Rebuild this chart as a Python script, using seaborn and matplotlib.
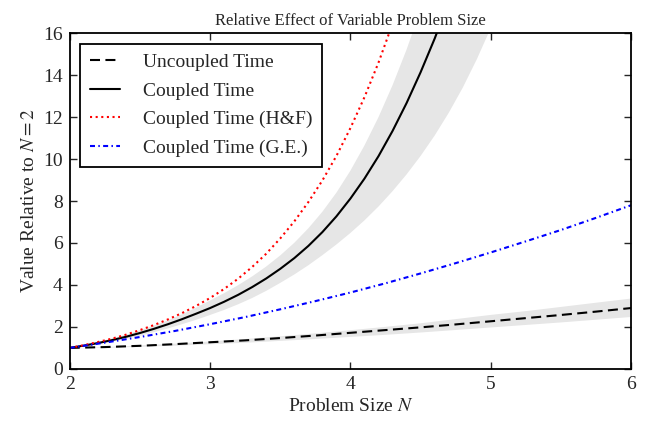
import matplotlib
matplotlib.use("Agg")
import matplotlib.pyplot as plt
import seaborn as sns
import pandas as pd

# problem sizes sampled along the curves
n_fast = [2.0, 2.1, 2.2, 2.3, 2.4, 2.5, 2.6, 2.7, 2.8, 2.9, 3.0, 3.1, 3.2, 3.3, 3.4, 3.5,
          3.6, 3.7, 3.8, 3.9, 4.0, 4.1, 4.2, 4.3, 4.4, 4.5, 4.6, 4.7, 4.8, 4.9, 5.0, 5.1]
n_slow = [2.0, 2.25, 2.5, 2.75, 3.0, 3.25, 3.5, 3.75, 4.0, 4.25, 4.5, 4.75, 5.0, 5.25, 5.5, 5.75, 6.0]

# relative values
uncoupled = [1.0, 1.04, 1.1, 1.18, 1.27, 1.36, 1.47, 1.59, 1.72, 1.85, 1.98, 2.12, 2.27, 2.42, 2.57, 2.73, 2.9]
uncoupled_lo = [1.0, 1.03, 1.08, 1.13, 1.2, 1.27, 1.36, 1.45, 1.55, 1.65, 1.76, 1.88, 2.0, 2.12, 2.24, 2.37, 2.5]
uncoupled_hi = [1.0, 1.06, 1.14, 1.23, 1.33, 1.45, 1.58, 1.72, 1.87, 2.03, 2.2, 2.4, 2.6, 2.78, 2.98, 3.18, 3.38]

coupled_ge = [1.0, 1.25, 1.52, 1.81, 2.13, 2.47, 2.84, 3.23, 3.64, 4.08, 4.55, 5.04, 5.55, 6.08, 6.62, 7.2, 7.8]

coupled = [1.0, 1.11, 1.23, 1.37, 1.53, 1.71, 1.91, 2.13, 2.37, 2.63, 2.9, 3.2, 3.53, 3.9, 4.31, 4.77,
           5.28, 5.86, 6.52, 7.27, 8.12, 9.07, 10.14, 11.34, 12.67, 14.14, 15.74, 17.49, 19.4, 21.45, 23.7, 26.1]
coupled_lo = [1.0, 1.09, 1.19, 1.3, 1.43, 1.58, 1.75, 1.93, 2.13, 2.34, 2.57, 2.81, 3.08, 3.38, 3.72, 4.1,
              4.5, 4.94, 5.42, 5.93, 6.48, 7.08, 7.74, 8.47, 9.27, 10.15, 11.12, 12.2, 13.4, 14.75, 16.25, 17.9]
coupled_hi = [1.0, 1.13, 1.28, 1.45, 1.63, 1.84, 2.07, 2.32, 2.6, 2.92, 3.26, 3.61, 3.99, 4.41, 4.88, 5.41,
              6.01, 6.7, 7.49, 8.4, 9.45, 10.65, 12.0, 13.52, 15.22, 17.12, 19.25, 21.6, 24.2, 27.1, 30.3, 33.9]

coupled_hf = [1.0, 1.13, 1.28, 1.44, 1.63, 1.85, 2.09, 2.36, 2.66, 3.0, 3.38, 3.81, 4.3, 4.86, 5.49, 6.22,
              7.03, 7.95, 8.98, 10.15, 11.48, 12.95, 14.6, 16.45, 18.5, 20.8, 23.4, 26.3, 29.5, 33.1, 37.1, 41.6]

sns.set_style("ticks")
plt.rcParams['font.family'] = ['Liberation Serif', 'DejaVu Serif']
plt.rcParams['mathtext.fontset'] = 'stix'

fig = plt.figure(figsize=(6.46, 4.25), dpi=100)
ax = fig.add_axes([0.108, 0.132, 0.869, 0.79])

slow_df = pd.DataFrame({'N': n_slow, 'unc': uncoupled, 'ge': coupled_ge})
fast_df = pd.DataFrame({'N': n_fast, 'cpl': coupled, 'hf': coupled_hf})

# uncertainty bands
ax.fill_between(n_slow, uncoupled_lo, uncoupled_hi, color='0.9', lw=0)
ax.fill_between(n_fast, coupled_lo, coupled_hi, color='0.9', lw=0)

sns.lineplot(data=slow_df, x='N', y='unc', ax=ax, color='black', lw=1.5,
             linestyle=(0, (4.8, 2.6)), label='Uncoupled Time')
sns.lineplot(data=fast_df, x='N', y='cpl', ax=ax, color='black', lw=1.5,
             label='Coupled Time')
sns.lineplot(data=fast_df, x='N', y='hf', ax=ax, color='red', lw=1.5,
             linestyle=(0, (1, 1.7)), label='Coupled Time (H&F)')
sns.lineplot(data=slow_df, x='N', y='ge', ax=ax, color='blue', lw=1.5,
             linestyle=(0, (2.4, 1.6, 0.7, 1.6)), label='Coupled Time (G.E.)')

ax.set_xlim(2, 6)
ax.set_ylim(0, 16)
ax.set_xticks([2, 3, 4, 5, 6])
ax.set_yticks(range(0, 17, 2))
ax.tick_params(direction='in', top=True, right=True, length=5, width=1, labelsize=14, pad=5)
for s in ax.spines.values():
    s.set_linewidth(1.3)
    s.set_color('black')

ax.set_title('Relative Effect of Variable Problem Size', fontsize=12)
ax.set_xlabel('Problem Size $N$', fontsize=14)
ax.set_ylabel('Value Relative to $N=2$', fontsize=14)

leg = ax.legend(loc='upper left', fontsize=14, frameon=True, fancybox=False,
                handlelength=1.55, handletextpad=1.15, borderaxespad=0.55,
                borderpad=0.5, labelspacing=0.56)
leg.get_frame().set_edgecolor('black')
leg.get_frame().set_linewidth(1.3)
leg.get_frame().set_alpha(1)

fig.savefig('out.png', dpi=100)
